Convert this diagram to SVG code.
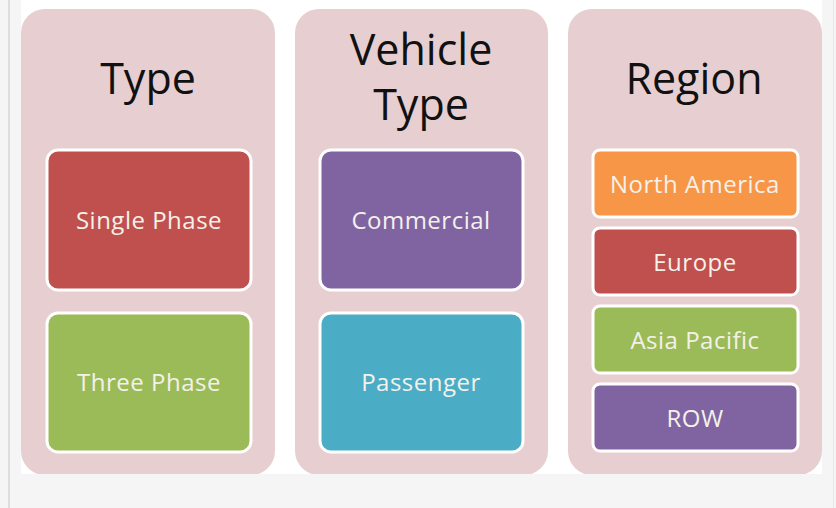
<svg xmlns="http://www.w3.org/2000/svg" width="836" height="508" viewBox="0 0 836 508">
<style>
.panel{fill:#e7cfd1}
.box{stroke:#ffffff;stroke-width:3}
.title{font-family:"Open Sans","Noto Sans",sans-serif;font-size:43px;fill:#111111;text-anchor:middle}
.lbl{font-family:"Open Sans","Noto Sans",sans-serif;font-size:24px;letter-spacing:0.5px;fill:#f4f1ea;text-anchor:middle;dominant-baseline:central}
</style>
<defs><clipPath id="slide"><rect x="21" y="0" width="801" height="474"/></clipPath></defs>
<rect x="0" y="0" width="836" height="508" fill="#f5f5f5"/>
<rect x="8" y="0" width="2" height="508" fill="#dddddd"/>
<rect x="833" y="0" width="1" height="508" fill="#e6e6e6"/>
<rect x="21" y="0" width="801" height="474" fill="#ffffff"/>
<g clip-path="url(#slide)">
<g id="panel-type">
<rect class="panel" x="21" y="9" width="254" height="466" rx="24"/>
<text class="title" x="148" y="94">Type</text>
</g>
<g id="panel-vehicle">
<rect class="panel" x="295" y="9" width="253" height="466" rx="24"/>
<text class="title" x="421" y="65">Vehicle</text>
<text class="title" x="421" y="120">Type</text>
</g>
<g id="panel-region">
<rect class="panel" x="568" y="9" width="254" height="466" rx="24"/>
<text class="title" x="694" y="94">Region</text>
</g>
</g>
<g id="connectors"></g>
<g id="single-phase"><rect class="box" x="47" y="150" width="204" height="140" rx="11" fill="#c0504d"/><text class="lbl" x="149" y="219">Single Phase</text></g>
<g id="three-phase"><rect class="box" x="47" y="313" width="204" height="139" rx="11" fill="#9bbb59"/><text class="lbl" x="149" y="381">Three Phase</text></g>
<g id="commercial"><rect class="box" x="320" y="150" width="203" height="140" rx="11" fill="#8064a2"/><text class="lbl" x="421" y="219">Commercial</text></g>
<g id="passenger"><rect class="box" x="320" y="313" width="203" height="139" rx="11" fill="#4bacc6"/><text class="lbl" x="421" y="381">Passenger</text></g>
<g id="north-america"><rect class="box" x="593" y="150" width="205" height="67" rx="7" fill="#f79646"/><text class="lbl" x="695" y="183">North America</text></g>
<g id="europe"><rect class="box" x="593" y="228" width="205" height="67" rx="7" fill="#c0504d"/><text class="lbl" x="695" y="261">Europe</text></g>
<g id="asia-pacific"><rect class="box" x="593" y="306" width="205" height="67" rx="7" fill="#9bbb59"/><text class="lbl" x="695" y="339">Asia Pacific</text></g>
<g id="row"><rect class="box" x="593" y="384" width="205" height="67" rx="7" fill="#8064a2"/><text class="lbl" x="695" y="417">ROW</text></g>
</svg>
